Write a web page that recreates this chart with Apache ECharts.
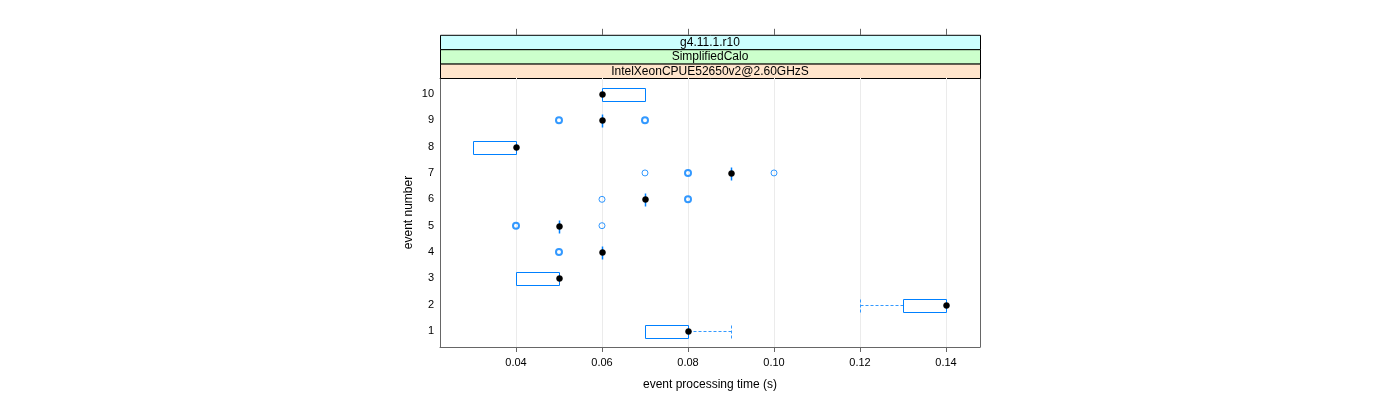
<!DOCTYPE html>
<html>
<head>
<meta charset="utf-8">
<script src="https://cdn.jsdelivr.net/npm/echarts@6/dist/echarts.min.js"></script>
<style>html,body{margin:0;padding:0;background:#fff}#c{width:1400px;height:400px}</style>
</head>
<body>
<div id="c"></div>
<script>
// ---- data ----
const events      = [1, 2, 3, 4, 5, 6, 7, 8, 9, 10];
const whiskerLow  = [0.07, 0.12, 0.04, 0.06, 0.05, 0.07, 0.09, 0.03, 0.06, 0.06];
const boxQ1       = [0.07, 0.13, 0.04, 0.06, 0.05, 0.07, 0.09, 0.03, 0.06, 0.06];
const medians     = [0.08, 0.14, 0.05, 0.06, 0.05, 0.07, 0.09, 0.04, 0.06, 0.06];
const boxQ3       = [0.08, 0.14, 0.05, 0.06, 0.05, 0.07, 0.09, 0.04, 0.06, 0.07];
const whiskerHigh = [0.09, 0.14, 0.05, 0.06, 0.05, 0.07, 0.09, 0.04, 0.06, 0.07];
// outliers: [event, value, count]
const outliers = [
  [4, 0.05, 2],
  [5, 0.04, 2], [5, 0.06, 1],
  [6, 0.06, 1], [6, 0.08, 2],
  [7, 0.07, 1], [7, 0.08, 2], [7, 0.10, 1],
  [9, 0.05, 2], [9, 0.07, 2]
];
const xTicks = [0.04, 0.06, 0.08, 0.10, 0.12, 0.14];
const yTicks = [1, 2, 3, 4, 5, 6, 7, 8, 9, 10];
const stripLabels = ['g4.11.1.r10', 'SimplifiedCalo', 'IntelXeonCPUE52650v2@2.60GHzS'];
const xTitle = 'event processing time (s)';
const yTitle = 'event number';

// ---- layout / style ----
const X0 = 0.02233, X1 = 0.1479, Y0 = 0.4, Y1 = 10.6;
const G = {left: 440, right: 420, top: 78, bottom: 53};
const stripH = 14.4;
const stripColors = ['#ccffff', '#ccffcc', '#ffe5cc'];
const BLUE = '#0080ff';
const WHISK = '#3399ff';
const AX = '#666666';
const FONT = 'Liberation Sans';
const boxWidth = 0.5;

const chart = echarts.init(document.getElementById('c'), null, {renderer: 'canvas'});

const boxData = events.map((e, i) => [e, whiskerLow[i], boxQ1[i], medians[i], boxQ3[i], whiskerHigh[i]]);

function seg(x1, y1, x2, y2, color, width, dash) {
  return {
    type: 'line', shape: {x1, y1, x2, y2},
    style: {stroke: color, lineWidth: width, lineDash: dash || null, fill: 'none', opacity: 1}
  };
}

function renderGrid(params, api) {
  const v = api.value(0);
  const x = Math.round(api.coord([v, Y0])[0]) + 0.5;
  const yb = api.coord([v, Y0])[1], yt = api.coord([v, Y1])[1];
  return seg(x, yt, x, yb, '#ebebeb', 1);
}

function renderBox(params, api) {
  const ev = api.value(0);
  const lo = api.value(1), q1 = api.value(2), med = api.value(3), q3 = api.value(4), hi = api.value(5);
  const yc = Math.round(api.coord([q1, ev])[1]) + 0.5;
  const h = api.size([0, boxWidth])[1] / 2;
  const X = v => Math.round(api.coord([v, ev])[0]) + 0.5;
  const xq1 = X(q1), xq3 = X(q3);
  const yt = Math.round(yc - h) + 0.5, yb = Math.round(yc + h) + 0.5;
  const children = [];
  if (lo < q1) {
    const xl = X(lo);
    children.push(seg(xl, yc, xq1, yc, WHISK, 1, [3, 2]));
    children.push(seg(xl, yt, xl, yb, WHISK, 1, [3, 2]));
  }
  if (hi > q3) {
    const xh = X(hi);
    children.push(seg(xq3, yc, xh, yc, WHISK, 1, [3, 2]));
    children.push(seg(xh, yt, xh, yb, WHISK, 1, [3, 2]));
  }
  if (xq3 > xq1) {
    children.push(seg(xq1, yt, xq3, yt, BLUE, 1));
    children.push(seg(xq1, yb, xq3, yb, BLUE, 1));
    children.push(seg(xq1, yt, xq1, yb, BLUE, 1));
    children.push(seg(xq3, yt, xq3, yb, BLUE, 1));
  } else {
    children.push(seg(xq1, yt, xq1, yb, BLUE, 1.5));
  }
  const pm = api.coord([med, ev]);
  children.push({type: 'circle', shape: {cx: Math.round(pm[0]) + 0.5, cy: yc, r: 3},
    style: {fill: '#000000', stroke: '#000000', lineWidth: 0.5}});
  return {type: 'group', children};
}

const graphics = [];
stripLabels.forEach((t, i) => {
  const top = G.top - stripH * (stripLabels.length - i);
  graphics.push({
    type: 'rect', left: G.left, top: top,
    shape: {width: 1400 - G.left - G.right, height: stripH},
    style: {fill: stripColors[i], stroke: '#000', lineWidth: 1}, z: 1
  });
  graphics.push({
    type: 'text', x: (G.left + 1400 - G.right) / 2, y: top + stripH / 2 + 0.5,
    style: {text: t, fill: '#000', font: '12px "' + FONT + '"', align: 'center', verticalAlign: 'middle'}, z: 2
  });
});

chart.setOption({
  animation: false,
  backgroundColor: '#fff',
  grid: {left: G.left, right: G.right, top: G.top, bottom: G.bottom, containLabel: false},
  xAxis: [{
    type: 'value', min: X0, max: X1, position: 'bottom',
    name: xTitle, nameLocation: 'middle', nameGap: 32,
    nameTextStyle: {fontFamily: FONT, fontSize: 12, color: '#000'},
    axisLine: {show: true, lineStyle: {color: AX}},
    axisTick: {show: true, length: 5, lineStyle: {color: AX}, customValues: xTicks},
    axisLabel: {show: true, customValues: xTicks, margin: 10, fontFamily: FONT, fontSize: 11, color: '#000',
      formatter: v => v.toFixed(2)},
    splitLine: {show: false}
  }, {
    type: 'value', min: X0, max: X1, position: 'top',
    axisLine: {show: true, lineStyle: {color: AX}},
    axisTick: {show: false}, axisLabel: {show: false}, splitLine: {show: false}
  }, {
    type: 'value', min: X0, max: X1, position: 'top', offset: stripH * 3,
    axisLine: {show: false},
    axisTick: {show: true, length: 6, lineStyle: {color: AX}, customValues: xTicks},
    axisLabel: {show: false}, splitLine: {show: false}
  }],
  yAxis: [{
    type: 'value', min: Y0, max: Y1, position: 'left',
    name: yTitle, nameLocation: 'middle', nameGap: 25, nameRotate: 90,
    nameTextStyle: {fontFamily: FONT, fontSize: 12, color: '#000'},
    axisLine: {show: true, lineStyle: {color: AX}},
    axisTick: {show: false},
    axisLabel: {show: true, customValues: yTicks, margin: 6, fontFamily: FONT, fontSize: 11, color: '#000'},
    splitLine: {show: false}
  }, {
    type: 'value', min: Y0, max: Y1, position: 'right',
    axisLine: {show: true, lineStyle: {color: AX}},
    axisTick: {show: false}, axisLabel: {show: false}, splitLine: {show: false}
  }],
  graphic: graphics,
  series: [{
    type: 'custom', renderItem: renderGrid, data: xTicks.map(v => [v]), z: 1, silent: true,
    encode: {x: 0}
  }, {
    type: 'custom', renderItem: renderBox, data: boxData, z: 3, silent: true,
    encode: {x: [1, 2, 3, 4, 5], y: 0}
  }, {
    type: 'scatter', z: 4, symbol: 'circle', symbolSize: 6, silent: true,
    data: outliers.map(o => ({
      value: [o[1], o[0]],
      itemStyle: {color: 'rgba(0,0,0,0)', borderColor: BLUE, borderWidth: o[2] > 1 ? 2 : 1}
    }))
  }]
});
</script>
</body>
</html>
